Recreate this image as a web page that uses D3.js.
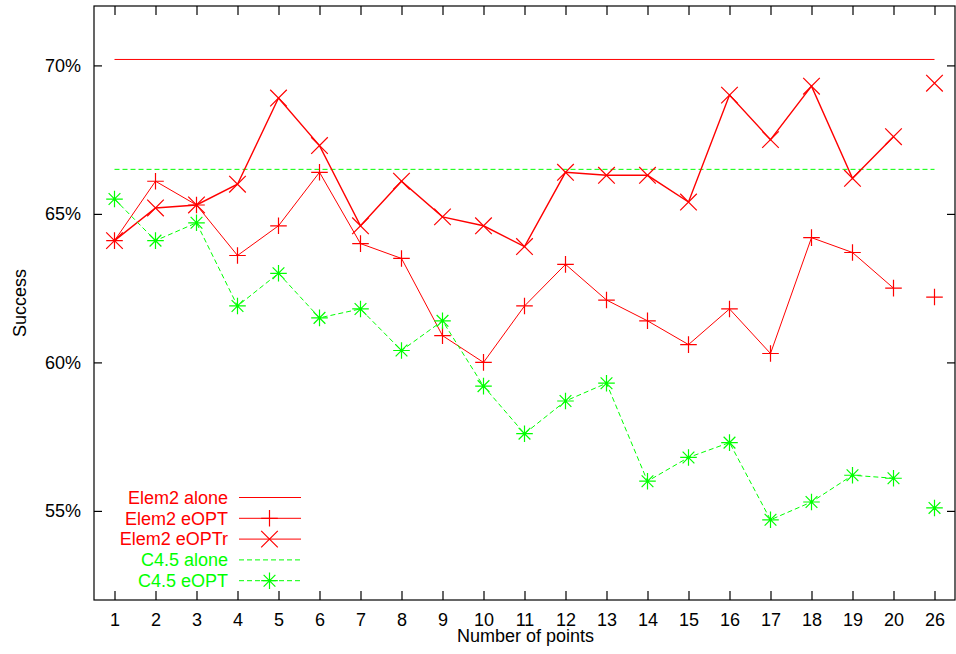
<!DOCTYPE html>
<html>
  <head>
    <meta charset="utf-8"/>
    <title>Success vs number of points</title>
    <script src="https://cdnjs.cloudflare.com/ajax/libs/d3/7.8.5/d3.min.js"></script>
    <style>
      body { margin: 0; background: #fff; }
      text { font-family: "Liberation Sans", Arial, sans-serif; font-size: 18px; }
      .frame { fill: none; stroke: #000; stroke-width: 1.2px; }
      .tick line { stroke: #000; stroke-width: 1.2px; }
    </style>
  </head>
  <body>

    <script>

      var outerWidth = 956;
      var outerHeight = 654;

      // categories along the bottom
      var points = ["1", "2", "3", "4", "5", "6", "7", "8", "9", "10",
                    "11", "12", "13", "14", "15", "16", "17", "18", "19", "20", "26"];
      var yTicks = [55, 60, 65, 70];

      // baselines (constant)
      var elem2Alone = 70.2;
      var c45Alone = 66.5;

      // series, in %
      var elem2eOPT  = [64.1, 66.1, 65.3, 63.6, 64.6, 66.4, 64.0, 63.5, 60.9, 60.0,
                        61.9, 63.3, 62.1, 61.4, 60.6, 61.8, 60.3, 64.2, 63.7, 62.5, 62.2];
      var elem2eOPTr = [64.1, 65.2, 65.3, 66.0, 68.9, 67.3, 64.6, 66.1, 64.9, 64.6,
                        63.9, 66.4, 66.3, 66.3, 65.4, 69.0, 67.5, 69.3, 66.2, 67.6, 69.4];
      var c45eOPT    = [65.5, 64.1, 64.7, 61.9, 63.0, 61.5, 61.8, 60.4, 61.4, 59.2,
                        57.6, 58.7, 59.3, 56.0, 56.8, 57.3, 54.7, 55.3, 56.2, 56.1, 55.1];

      var red = "#ff0000";
      var green = "#00ff00";

      var plotL = 94, plotR = 955, plotT = 6, plotB = 600;

      var svg = d3.select("body").append("svg")
        .attr("width", outerWidth)
        .attr("height", outerHeight);

      var xScale = d3.scaleLinear().domain([-0.5, points.length - 0.5]).range([plotL, plotR]);
      var yScale = d3.scaleLinear().domain([52, 72]).range([plotB, plotT]);

      // axes on all four sides, gnuplot style (inward ticks, mirrored)
      var idx = d3.range(points.length);
      svg.append("g")
        .attr("transform", "translate(0," + plotB + ")")
        .call(d3.axisBottom(xScale).tickValues(idx).tickSizeInner(-9).tickSizeOuter(0)
          .tickPadding(13).tickFormat(function (i){ return points[i]; }))
        .call(function (g){ g.select(".domain").remove(); });
      svg.append("g")
        .attr("transform", "translate(0," + plotT + ")")
        .call(d3.axisTop(xScale).tickValues(idx).tickSizeInner(-9).tickSizeOuter(0)
          .tickFormat(""))
        .call(function (g){ g.select(".domain").remove(); });
      svg.append("g")
        .attr("transform", "translate(" + plotL + ",0)")
        .call(d3.axisLeft(yScale).tickValues(yTicks).tickSizeInner(-8).tickSizeOuter(0)
          .tickPadding(13).tickFormat(function (d){ return d + "%"; }))
        .call(function (g){ g.select(".domain").remove(); });
      svg.append("g")
        .attr("transform", "translate(" + plotR + ",0)")
        .call(d3.axisRight(yScale).tickValues(yTicks).tickSizeInner(-8).tickSizeOuter(0)
          .tickFormat(""))
        .call(function (g){ g.select(".domain").remove(); });

      svg.selectAll("g").attr("font-family", null).attr("font-size", null);
      svg.selectAll(".tick text").attr("fill", "#000");

      svg.append("rect").attr("class", "frame")
        .attr("x", plotL).attr("y", plotT)
        .attr("width", plotR - plotL).attr("height", plotB - plotT);

      svg.append("text")
        .attr("x", (plotL + plotR) / 2 + 1).attr("y", 642)
        .attr("text-anchor", "middle")
        .text("Number of points");
      svg.append("text")
        .attr("transform", "translate(26,303) rotate(-90)")
        .attr("text-anchor", "middle")
        .text("Success");

      // marker shapes
      var mSize = 8.3;
      function markerPath(type, size){
        var s = size, d = s * 0.7071;
        if (type === "plus") return "M" + (-s) + ",0H" + s + "M0," + (-s) + "V" + s;
        if (type === "cross") return "M" + (-s) + "," + (-s) + "L" + s + "," + s + "M" + (-s) + "," + s + "L" + s + "," + (-s);
        if (type === "star") return "M" + (-s) + ",0H" + s + "M0," + (-s) + "V" + s +
          "M" + (-d) + "," + (-d) + "L" + d + "," + d + "M" + (-d) + "," + d + "L" + d + "," + (-d);
        return "";
      }

      // the 26 column is not joined to the others
      var line = d3.line()
        .defined(function (d, i){ return i < points.length - 1; })
        .x(function (d, i){ return xScale(i); })
        .y(function (d){ return yScale(d); });

      var first = xScale(0), last = xScale(points.length - 1);

      svg.append("line")
        .attr("x1", first).attr("x2", last)
        .attr("y1", yScale(elem2Alone)).attr("y2", yScale(elem2Alone))
        .attr("stroke", red).attr("stroke-width", 1);
      svg.append("line")
        .attr("x1", first).attr("x2", last)
        .attr("y1", yScale(c45Alone)).attr("y2", yScale(c45Alone))
        .attr("stroke", green).attr("stroke-width", 1).attr("stroke-dasharray", "5,3");

      var series = [
        { values: elem2eOPT,  color: red,   dash: null,  marker: "plus",  width: 1 },
        { values: elem2eOPTr, color: red,   dash: null,  marker: "cross", width: 1.4 },
        { values: c45eOPT,    color: green, dash: "5,3", marker: "star",  width: 1 }
      ];

      series.forEach(function (s){
        svg.append("path")
          .attr("d", line(s.values))
          .attr("fill", "none")
          .attr("stroke", s.color)
          .attr("stroke-width", s.width)
          .attr("stroke-dasharray", s.dash);
        svg.append("g").selectAll("path").data(s.values).enter().append("path")
          .attr("transform", function (d, i){ return "translate(" + xScale(i) + "," + yScale(d) + ")"; })
          .attr("d", markerPath(s.marker, mSize))
          .attr("fill", "none")
          .attr("stroke", s.color)
          .attr("stroke-width", 1.2);
      });

      // legend
      var legend = [
        { label: "Elem2 alone",  color: red,   dash: null,  marker: null },
        { label: "Elem2 eOPT",   color: red,   dash: null,  marker: "plus" },
        { label: "Elem2 eOPTr",  color: red,   dash: null,  marker: "cross" },
        { label: "C4.5 alone",   color: green, dash: "5,3", marker: null },
        { label: "C4.5 eOPT",    color: green, dash: "5,3", marker: "star" }
      ];
      var lg = svg.append("g").selectAll("g").data(legend).enter().append("g")
        .attr("transform", function (d, i){ return "translate(0," + (497.5 + i * 20.8) + ")"; });
      lg.append("text")
        .attr("x", 228).attr("y", 0).attr("dy", "0.35em")
        .attr("text-anchor", "end")
        .attr("fill", function (d){ return d.color; })
        .text(function (d){ return d.label; });
      lg.append("line")
        .attr("x1", 239).attr("x2", 301).attr("y1", 0).attr("y2", 0)
        .attr("stroke", function (d){ return d.color; })
        .attr("stroke-dasharray", function (d){ return d.dash; });
      lg.filter(function (d){ return d.marker; }).append("path")
        .attr("transform", "translate(269.5,0)")
        .attr("d", function (d){ return markerPath(d.marker, mSize); })
        .attr("fill", "none")
        .attr("stroke", function (d){ return d.color; })
        .attr("stroke-width", 1.2);

    </script>

  </body>
</html>
